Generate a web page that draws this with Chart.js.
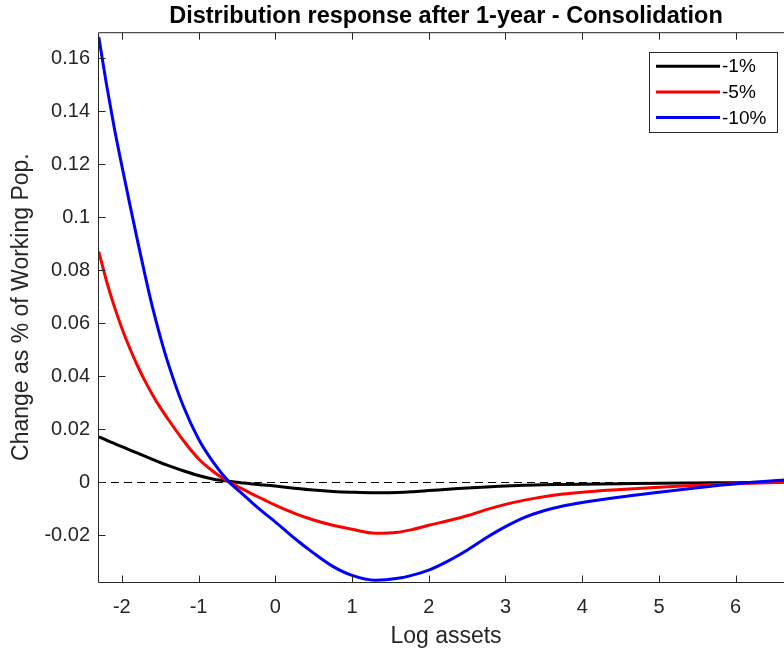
<!DOCTYPE html>
<html>
<head>
<meta charset="utf-8">
<script src="https://cdn.jsdelivr.net/npm/chart.js@4.4.1/dist/chart.umd.min.js"></script>
<style>
  html,body{margin:0;padding:0;background:#fff;overflow:hidden;}
  #wrap{width:784px;height:655px;overflow:hidden;}
  canvas{display:block;}
</style>
</head>
<body>
<div id="wrap"><canvas id="mainChart" width="800" height="655"></canvas></div>
<script>
// values
const logAssets = [-2.3,-2.2,-2.1,-2.0,-1.9,-1.8,-1.7,-1.6,-1.5,-1.4,-1.2,-1.0,-0.8,-0.6,-0.45,-0.3,-0.15,0,0.25,0.5,0.75,1.0,1.3,1.6,1.8,2.0,2.25,2.5,2.75,3.0,3.25,3.5,3.75,4.0,4.5,5.0,5.5,6.0,6.8];
const resp1  = [0.0171,0.0158,0.0146,0.0134,0.0122,0.0110,0.0098,0.0086,0.0074,0.0063,0.0043,0.0025,0.0011,0.0003,-0.0002,-0.0007,-0.0011,-0.0015,-0.0023,-0.0030,-0.0035,-0.0038,-0.0040,-0.0039,-0.0036,-0.0032,-0.0027,-0.0022,-0.0018,-0.0015,-0.0012,-0.0010,-0.0009,-0.0008,-0.0006,-0.0004,-0.0003,-0.0002,0.0002];
const resp5  = [0.0870,0.0760,0.0665,0.0582,0.0508,0.0442,0.0383,0.0330,0.0282,0.0239,0.0158,0.0088,0.0038,0.0,-0.0023,-0.0045,-0.0066,-0.0087,-0.0118,-0.0143,-0.0163,-0.0178,-0.0193,-0.0189,-0.0178,-0.0163,-0.0146,-0.0127,-0.0104,-0.0084,-0.0068,-0.0055,-0.0045,-0.0038,-0.0028,-0.0019,-0.0012,-0.0006,0.0001];
const resp10 = [0.1680,0.1502,0.1340,0.1195,0.1055,0.0918,0.0785,0.0660,0.0550,0.0452,0.0288,0.0163,0.0072,0.0,-0.0039,-0.0078,-0.0115,-0.0150,-0.0212,-0.0268,-0.0318,-0.0352,-0.0370,-0.0363,-0.0350,-0.0332,-0.0298,-0.0257,-0.0210,-0.0168,-0.0133,-0.0108,-0.0090,-0.0077,-0.0056,-0.0038,-0.0021,-0.0006,0.0012];
const seriesLabels = ['-1%','-5%','-10%'];
const seriesColors = ['#000000','#ff0000','#0000ff'];
const xTicks = [-2,-1,0,1,2,3,4,5,6];
const yTicks = [-0.02,0,0.02,0.04,0.06,0.08,0.1,0.12,0.14,0.16];
const yTickLabels = ['-0.02','0','0.02','0.04','0.06','0.08','0.1','0.12','0.14','0.16'];

const FONT = "'Liberation Sans', Arial, Helvetica, sans-serif";
const INK = '#262626';
Chart.defaults.font.family = FONT;
Chart.defaults.color = INK;

const toPts = arr => arr.map((v,i)=>({x:logAssets[i], y:v}));

// zero reference line, box with inward ticks, legend
const frame = {
  id:'frame',
  beforeDatasetsDraw(chart){
    const {ctx, chartArea:a, scales:{y}} = chart;
    const y0 = Math.round(y.getPixelForValue(0)) + 0.5;
    ctx.save();
    ctx.strokeStyle = '#000'; ctx.lineWidth = 1; ctx.setLineDash([8,5]);
    ctx.beginPath(); ctx.moveTo(a.left, y0); ctx.lineTo(a.right, y0); ctx.stroke();
    ctx.restore();
  },
  afterDatasetsDraw(chart){
    const {ctx, chartArea:a, scales:{x,y}} = chart;
    const L = a.left + 0.5, R = a.right - 0.5, T = a.top + 0.5, B = a.bottom + 0.5;
    const tl = 7;
    ctx.save();
    ctx.strokeStyle = INK; ctx.lineWidth = 1;
    ctx.beginPath();
    ctx.moveTo(L, T); ctx.lineTo(R, T); ctx.lineTo(R, B); ctx.lineTo(L, B); ctx.closePath();
    xTicks.forEach(v=>{
      const px = Math.round(x.getPixelForValue(v)) + 0.5;
      ctx.moveTo(px, B); ctx.lineTo(px, B - tl);
      ctx.moveTo(px, T); ctx.lineTo(px, T + tl);
    });
    yTicks.forEach(v=>{
      const py = Math.round(y.getPixelForValue(v)) + 0.5;
      ctx.moveTo(L, py); ctx.lineTo(L + tl, py);
      ctx.moveTo(R, py); ctx.lineTo(R - tl, py);
    });
    ctx.stroke();
    ctx.restore();
  },
  afterDraw(chart){
    const {ctx, chartArea:a} = chart;
    const bw = 128, bh = 80;
    const bx = a.right - 17 - bw, by = a.top + 20;
    ctx.save();
    ctx.fillStyle = '#fff'; ctx.fillRect(bx, by, bw, bh);
    ctx.strokeStyle = INK; ctx.lineWidth = 1;
    ctx.strokeRect(Math.round(bx)+0.5, Math.round(by)+0.5, bw, bh);
    ctx.font = '19px ' + FONT; ctx.textBaseline = 'middle'; ctx.textAlign = 'left';
    seriesLabels.forEach((lab,i)=>{
      const ly = by + 14 + i*25.7;
      ctx.strokeStyle = seriesColors[i]; ctx.lineWidth = 3;
      ctx.beginPath(); ctx.moveTo(bx + 7, ly); ctx.lineTo(bx + 71, ly); ctx.stroke();
      ctx.fillStyle = '#000'; ctx.fillText(lab, bx + 73, ly + 1);
    });
    ctx.restore();
  }
};

const series = [resp1, resp5, resp10];
const datasets = series.map((s,i)=>({
  label: seriesLabels[i],
  data: toPts(s),
  borderColor: seriesColors[i],
  borderWidth: 3,
  pointRadius: 0,
  fill: false,
  cubicInterpolationMode: 'monotone',
  order: 2 - i
}));

new Chart(document.getElementById('mainChart'), {
  type: 'line',
  data: { datasets },
  options: {
    responsive: false,
    animation: false,
    layout: { padding: { left: 0, right: 6, top: 0, bottom: 0 } },
    plugins: {
      legend: { display: false },
      tooltip: { enabled: false },
      title: {
        display: true,
        text: 'Distribution response after 1-year - Consolidation',
        fullSize: false,
        color: '#000',
        font: { size: 23.5, weight: 'bold' },
        padding: { top: 2, bottom: 2 }
      }
    },
    scales: {
      x: {
        type: 'linear',
        min: -2.31, max: 6.76,
        afterBuildTicks: s => { s.ticks = xTicks.map(v=>({value:v})); },
        afterFit: s => { s.height = 73; },
        grid: { display: false, drawTicks: false },
        border: { display: false },
        ticks: { font: { size: 20 }, color: INK, padding: 13, callback: v => String(v) },
        title: { display: true, text: 'Log assets', font: { size: 23 }, color: INK, padding: { top: 0, bottom: 5 } }
      },
      y: {
        type: 'linear',
        min: -0.0377, max: 0.1698,
        afterBuildTicks: s => { s.ticks = yTicks.map(v=>({value:v})); },
        afterFit: s => { s.width = 98; },
        grid: { display: false, drawTicks: false },
        border: { display: false },
        ticks: { font: { size: 20 }, color: INK, padding: 8, callback: v => yTickLabels[yTicks.indexOf(v)] },
        title: { display: true, text: 'Change as % of Working Pop.', font: { size: 23 }, color: INK, padding: { top: 8, bottom: 0 } }
      }
    }
  },
  plugins: [frame]
});
</script>
</body>
</html>
